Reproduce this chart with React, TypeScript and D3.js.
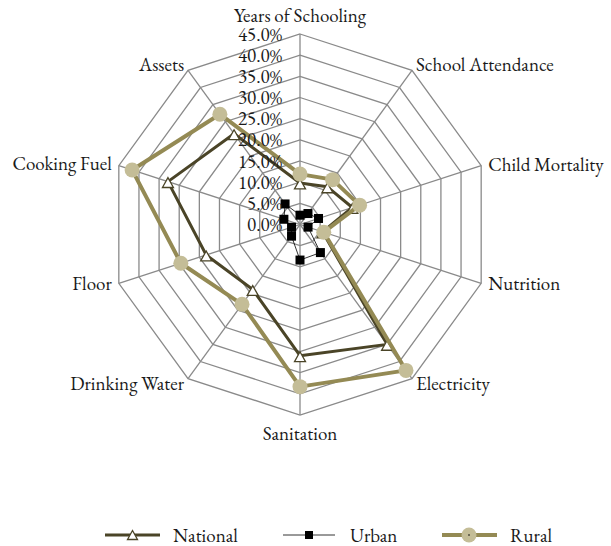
import React from "react";
import * as d3 from "d3";

const categories = [
  "Years of Schooling",
  "School Attendance",
  "Child Mortality",
  "Nutrition",
  "Electricity",
  "Sanitation",
  "Drinking Water",
  "Floor",
  "Cooking Fuel",
  "Assets",
];
const national = [9.8, 11.0, 13.0, 5.6, 35.0, 31.0, 19.0, 23.3, 32.8, 26.5];
const urban = [2.2, 3.2, 4.6, 2.0, 8.2, 8.4, 3.4, 2.1, 4.0, 6.0];
const rural = [11.9, 13.1, 14.8, 5.9, 42.6, 38.3, 23.3, 29.6, 41.7, 32.2];
const tickValues = [0, 5, 10, 15, 20, 25, 30, 35, 40, 45];
const seriesNames = ["National", "Urban", "Rural"];

const W = 611;
const H = 546;
const cx = 300;
const cy = 224.5;
const R = 190.5;
const FONT = "Garamond, 'EB Garamond', 'Liberation Serif', serif";
const FS = 19;

const rScale = d3.scaleLinear().domain([0, 45]).range([0, R]);
const aScale = d3
  .scaleLinear()
  .domain([0, categories.length])
  .range([0, 2 * Math.PI]);

const pt = (i: number, v: number): [number, number] => {
  const a = aScale(i);
  const r = rScale(v);
  return [cx + r * Math.sin(a), cy - r * Math.cos(a)];
};

const closedLine = d3
  .line<[number, number]>()
  .x((d) => d[0])
  .y((d) => d[1])
  .curve(d3.curveLinearClosed);

const NAT = "#4a4427";
const RUR_LINE = "#948a54";
const RUR_FILL = "#c4bd97";
const GRID = "#8a8a8a";

const labelPos: { dx: number; dy: number; anchor: string }[] = [
  { dx: 0, dy: -18.5, anchor: "middle" },
  { dx: 4, dy: -6, anchor: "start" },
  { dx: 7, dy: -1, anchor: "start" },
  { dx: 7, dy: 0, anchor: "start" },
  { dx: 4, dy: 5, anchor: "start" },
  { dx: 0, dy: 18, anchor: "middle" },
  { dx: -4, dy: 5, anchor: "end" },
  { dx: -7, dy: 0, anchor: "end" },
  { dx: -7, dy: -2, anchor: "end" },
  { dx: -4, dy: -6, anchor: "end" },
];

function Triangle({ x, y, s = 5.5 }: { x: number; y: number; s?: number }) {
  const p = `M${x},${y - s} L${x + s},${y + s * 0.8} L${x - s},${y + s * 0.8} Z`;
  return <path d={p} fill="#ffffff" stroke={NAT} strokeWidth={1.3} />;
}

export default function App() {
  const n = categories.length;
  const natPts = national.map((v, i) => pt(i, v));
  const urbPts = urban.map((v, i) => pt(i, v));
  const rurPts = rural.map((v, i) => pt(i, v));

  const legendY = 535;

  return (
    <svg
      width={W}
      height={H}
      style={{ position: "absolute", left: 0, top: 0, background: "#fff" }}
      fontFamily={FONT}
    >
      {/* grid rings */}
      {tickValues.slice(1).map((t) => (
        <path
          key={"ring" + t}
          d={closedLine(d3.range(n).map((i) => pt(i, t))) || ""}
          fill="none"
          stroke={GRID}
          strokeWidth={1.3}
        />
      ))}
      {/* spokes */}
      {d3.range(n).map((i) => {
        const [x, y] = pt(i, 45);
        return (
          <line
            key={"sp" + i}
            x1={cx}
            y1={cy}
            x2={x}
            y2={y}
            stroke={GRID}
            strokeWidth={1.3}
          />
        );
      })}
      {/* category labels */}
      {categories.map((c, i) => {
        const [x, y] = pt(i, 45);
        const lp = labelPos[i];
        return (
          <text
            key={"cat" + i}
            x={x + lp.dx}
            y={y + lp.dy}
            textAnchor={lp.anchor}
            dominantBaseline="central"
            fontSize={FS}
            fill="#1a1a1a"
          >
            {c}
          </text>
        );
      })}

      {/* National */}
      <path
        d={closedLine(natPts) || ""}
        fill="none"
        stroke={NAT}
        strokeWidth={3}
        strokeLinejoin="round"
      />
      {natPts.map(([x, y], i) => (
        <Triangle key={"nt" + i} x={x} y={y + 1.5} />
      ))}

      {/* Urban */}
      <path
        d={closedLine(urbPts) || ""}
        fill="none"
        stroke="#000"
        strokeWidth={0.8}
      />
      {urbPts.map(([x, y], i) => (
        <rect
          key={"ur" + i}
          x={x - 4.5}
          y={y - 4.5}
          width={9}
          height={9}
          fill="#000"
        />
      ))}

      {/* Rural */}
      <path
        d={closedLine(rurPts) || ""}
        fill="none"
        stroke={RUR_LINE}
        strokeWidth={4}
        strokeLinejoin="round"
      />
      {rurPts.map(([x, y], i) => (
        <circle key={"rc" + i} cx={x} cy={y} r={7.5} fill={RUR_FILL} />
      ))}

      {/* tick labels */}
      {tickValues.map((t) => {
        const [, y] = pt(0, t);
        return (
          <text
            key={"tk" + t}
            x={282}
            y={y}
            textAnchor="end"
            dominantBaseline="central"
            fontSize={FS}
            fill="#1a1a1a"
          >
            {t.toFixed(1) + "%"}
          </text>
        );
      })}

      {/* legend */}
      <g>
        <line x1={105} x2={160} y1={legendY} y2={legendY} stroke={NAT} strokeWidth={3} />
        <Triangle x={132.5} y={legendY + 0.5} s={5} />
        <text x={173} y={legendY} dominantBaseline="central" fontSize={FS} fill="#1a1a1a">
          {seriesNames[0]}
        </text>

        <line x1={283} x2={335} y1={legendY} y2={legendY} stroke="#000" strokeWidth={0.8} />
        <rect x={305} y={legendY - 4} width={8} height={8} fill="#000" />
        <text x={350} y={legendY} dominantBaseline="central" fontSize={FS} fill="#1a1a1a">
          {seriesNames[1]}
        </text>

        <line x1={442} x2={497} y1={legendY} y2={legendY} stroke={RUR_LINE} strokeWidth={4} />
        <circle cx={469} cy={legendY} r={7.5} fill={RUR_FILL} />
        <circle cx={469} cy={legendY} r={0.8} fill="#000" />
        <text x={510} y={legendY} dominantBaseline="central" fontSize={FS} fill="#1a1a1a">
          {seriesNames[2]}
        </text>
      </g>
    </svg>
  );
}
